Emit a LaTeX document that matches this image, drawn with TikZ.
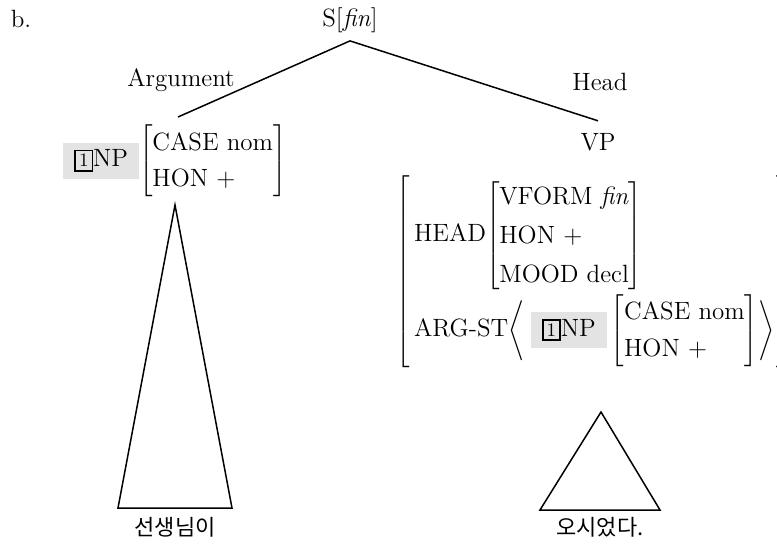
\documentclass[tikz,border=0pt]{standalone}
\usepackage{fontspec}
\newfontfamily\krfont{Noto Sans CJK KR}
\usetikzlibrary{positioning}

% boxed index and shaded category
\newcommand{\tagbox}[1]{{\setlength{\fboxsep}{1.5pt}\setlength{\fboxrule}{0.8pt}\fbox{\fontsize{9.5}{11}\selectfont #1}}}
\newcommand{\grayhl}[1]{{\setlength{\fboxsep}{3.5pt}\colorbox{gray!22}{\hspace{2pt}#1\hspace{2pt}}}}
% attribute-value matrix
\newcommand{\avmbox}[2]{\left[\renewcommand{\arraystretch}{#1}\begin{tabular}{@{}l@{}}#2\end{tabular}\right]}

\tikzset{
  treenode/.style={font=\fontsize{12.5}{15}\selectfont, inner sep=2pt},
  branch/.style={line width=0.75pt},
  wordlabel/.style={font=\krfont\fontsize{11}{13}\selectfont, inner sep=1pt},
}

\begin{document}
\begin{tikzpicture}[x=0.5pt, y=-0.5pt, every node/.style={treenode}]
    \useasboundingbox (0,0) rectangle (777,545);

    % Mother
    \node (ex) at (21,19) {b.};
    \node[inner ysep=4pt] (s) at (350,20) {S[\textit{fin}]};

    % Branch labels
    \node (arg) at (181,80) {Argument};
    \node (head) at (600,82) {Head};

    % Argument daughter
    \node[anchor=west, inner sep=0pt] (np) at (63,161)
        {\grayhl{\tagbox{1}NP}$\avmbox{1.2}{CASE nom\\HON +}$};
    \coordinate (npTop) at (178,117);
    \coordinate (npTip) at (175,205);

    % Head daughter
    \node[inner ysep=6pt] (vp) at (598,142) {VP};
    \node[anchor=east, inner sep=0pt] (vpavm) at (790,272)
        {$\left[\,\begin{tabular}{@{}l@{}}
            HEAD$\avmbox{1.3}{VFORM \textit{fin}\\HON +\\MOOD decl}$\\[3pt]
            ARG-ST$\left\langle\;\grayhl{\tagbox{1}NP}\avmbox{1.22}{CASE nom\\HON +}\right\rangle$
          \end{tabular}\hspace{1pt}\right]$};
    \coordinate (vpTip) at (601,412);

    % Words
    \node[wordlabel] (w1) at (175,527) {선생님이};
    \node[wordlabel] (w2) at (600,527) {오시었다.};

    % Branches
    \draw[branch] (s.south) -- (npTop);
    \draw[branch] (s.south) -- (vp.north);

    % Triangles
    \draw[branch] (npTip) -- ++(-57,303) -- ++(114,0) -- cycle;
    \draw[branch] (vpTip) -- ++(-61,98) -- ++(120,0) -- cycle;
\end{tikzpicture}
\end{document}
